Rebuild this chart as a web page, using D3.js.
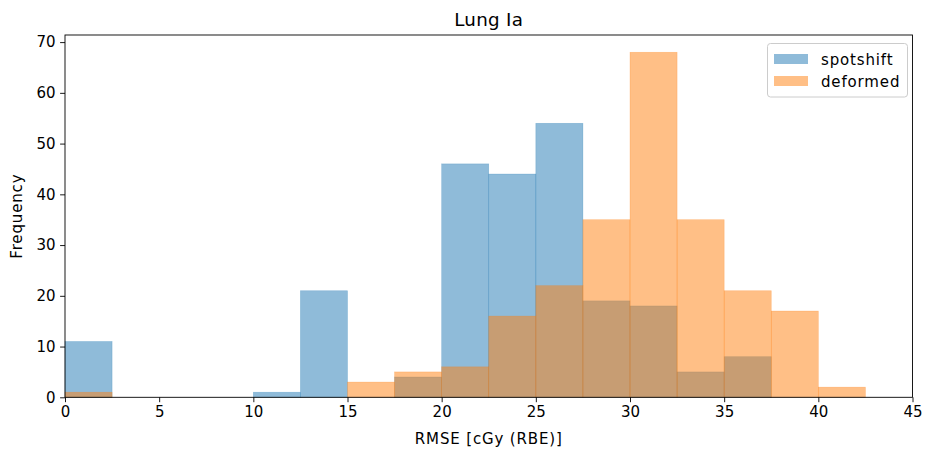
<!DOCTYPE html>
<html>
<head>
<meta charset="utf-8">
<script src="https://cdn.jsdelivr.net/npm/d3@7"></script>
<style>
  body { margin: 0; background: #fff; }
  svg { font-family: "DejaVu Sans", sans-serif; }
</style>
</head>
<body>
<svg id="chart" width="925" height="450"></svg>
<script>
// Histogram bins (width 2.5) and counts per series
const binEdges = [0, 2.5, 5, 7.5, 10, 12.5, 15, 17.5, 20, 22.5, 25, 27.5, 30, 32.5, 35, 37.5, 40, 42.5];
const spotshift = [11, 0, 0, 0, 1, 21, 0, 4, 46, 44, 54, 19, 18, 5, 8, 0, 0];
const deformed  = [1, 0, 0, 0, 0, 0, 3, 5, 6, 16, 22, 35, 68, 35, 21, 17, 2];
const xTicks = [0, 5, 10, 15, 20, 25, 30, 35, 40, 45];
const yTicks = [0, 10, 20, 30, 40, 50, 60, 70];
const seriesNames = ["spotshift", "deformed"];
const colors = ["#1f77b4", "#ff7f0e"];

const svg = d3.select("#chart");
const m = { left: 65, right: 912.5, top: 35, bottom: 397.3 };
const fs = 15;
const ls = "0.85px";

const x = d3.scaleLinear().domain([0, 45]).range([m.left, m.right]);
const yMax = d3.max(deformed.concat(spotshift)) * 1.05;
const y = d3.scaleLinear().domain([0, yMax]).range([m.bottom, m.top]);

[spotshift, deformed].forEach((vals, si) => {
  const g = svg.append("g");
  vals.forEach((v, i) => {
    if (v <= 0) return;
    const x0 = x(binEdges[i]), x1 = x(binEdges[i] + 2.5);
    g.append("rect")
      .attr("x", x0).attr("y", y(v))
      .attr("width", x1 - x0).attr("height", y(0) - y(v))
      .attr("fill", colors[si]).attr("fill-opacity", 0.5)
      .attr("stroke", colors[si]).attr("stroke-opacity", 0.35)
      .attr("stroke-width", 0.6);
  });
});

// Axes
const tickLen = 4.9;
const xAxis = d3.axisBottom(x).tickValues(xTicks).tickSize(tickLen).tickPadding(4.5).tickFormat(d3.format("d"));
const yAxis = d3.axisLeft(y).tickValues(yTicks).tickSize(tickLen).tickPadding(4.5).tickFormat(d3.format("d"));

const gx = svg.append("g").attr("transform", `translate(0,${m.bottom})`).call(xAxis);
const gy = svg.append("g").attr("transform", `translate(${m.left},0)`).call(yAxis);
[gx, gy].forEach(g => {
  g.select(".domain").remove();
  g.selectAll("line").attr("stroke", "#000").attr("stroke-width", 0.9);
  g.selectAll("text").attr("font-size", fs + "px").attr("fill", "#000")
    .attr("font-family", "DejaVu Sans, sans-serif");
});

// Frame
svg.append("rect")
  .attr("x", m.left).attr("y", m.top)
  .attr("width", m.right - m.left).attr("height", m.bottom - m.top)
  .attr("fill", "none").attr("stroke", "#000").attr("stroke-width", 0.9);

// Title and axis labels
svg.append("text").attr("x", (m.left + m.right) / 2).attr("y", 26)
  .attr("text-anchor", "middle").attr("font-size", "18.3px")
  .attr("letter-spacing", "0.3px").text("Lung Ia");
svg.append("text").attr("x", (m.left + m.right) / 2).attr("y", 444)
  .attr("text-anchor", "middle").attr("font-size", fs + "px")
  .attr("letter-spacing", ls).text("RMSE [cGy (RBE)]");
svg.append("text")
  .attr("transform", `translate(22,${(m.top + m.bottom) / 2}) rotate(-90)`)
  .attr("text-anchor", "middle").attr("font-size", fs + "px")
  .attr("letter-spacing", ls).text("Frequency");

// Legend
const lg = svg.append("g");
lg.append("rect").attr("x", 767.5).attr("y", 43.5).attr("width", 140).attr("height", 53.5)
  .attr("rx", 3).attr("fill", "#fff").attr("fill-opacity", 0.8)
  .attr("stroke", "#cccccc").attr("stroke-width", 1);
seriesNames.forEach((name, i) => {
  const yy = 54 + i * 22;
  lg.append("rect").attr("x", 774).attr("y", yy).attr("width", 34).attr("height", 10)
    .attr("fill", colors[i]).attr("fill-opacity", 0.5);
  lg.append("text").attr("x", 821).attr("y", yy + 10.5)
    .attr("font-size", fs + "px").attr("letter-spacing", ls).text(name);
});
</script>
</body>
</html>
